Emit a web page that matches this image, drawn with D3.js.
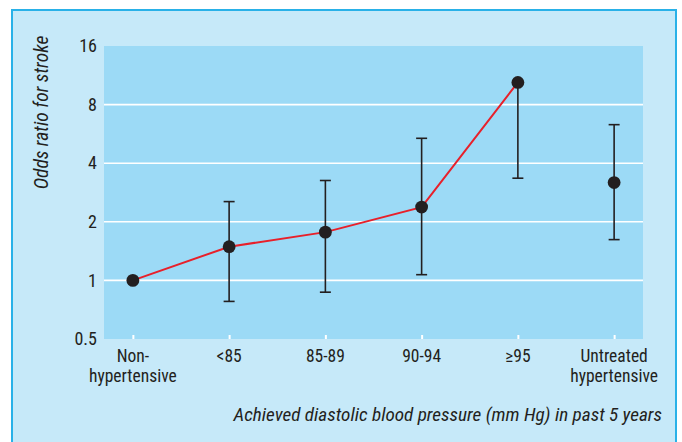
<!DOCTYPE html>
<html>
<head>
<meta charset="utf-8">
<script src="https://cdn.jsdelivr.net/npm/d3@7"></script>
<style>
  html, body { margin: 0; padding: 0; background: #ffffff; }
  svg { display: block; }
  text { font-family: "Liberation Sans Narrow", "Arial Narrow", "Roboto Condensed", sans-serif; fill: #231f20; }
</style>
</head>
<body>
<svg id="chart" width="682" height="442"></svg>
<script>
// ---- data ----
const categories = ["Non-hypertensive", "<85", "85-89", "90-94", "\u226595", "Untreated hypertensive"];
const tickLabelLines = [["Non-", "hypertensive"], ["<85"], ["85-89"], ["90-94"], ["\u226595"], ["Untreated", "hypertensive"]];
const oddsRatio = [1, 1.49, 1.77, 2.38, 10.4, 3.18];
const ciLower = [null, 0.78, 0.87, 1.07, 3.35, 1.62];
const ciUpper = [null, 2.54, 3.26, 5.37, null, 6.31];
const connected = ["Non-hypertensive", "<85", "85-89", "90-94", "\u226595"];
const yTicks = [0.5, 1, 2, 4, 8, 16];
const yGrid = [1, 2, 4, 8];
const yTitle = "Odds ratio for stroke";
const xTitle = "Achieved diastolic blood pressure (mm Hg) in past 5 years";

// ---- layout ----
const svg = d3.select("#chart");
const plot = { left: 104, right: 643, top: 46, bottom: 339 };

svg.append("rect")
  .attr("x", 12).attr("y", 10).attr("width", 664).attr("height", 445)
  .attr("fill", "#c6e9f9").attr("stroke", "#29b1e8").attr("stroke-width", 2);

svg.append("rect")
  .attr("x", plot.left).attr("y", plot.top)
  .attr("width", plot.right - plot.left).attr("height", plot.bottom - plot.top)
  .attr("fill", "#9cdaf6");

const x = d3.scalePoint().domain(categories).range([plot.left, plot.right]).padding(0.3);
const y = d3.scaleLog().base(2).domain([0.5, 16]).range([plot.bottom, plot.top]);

// gridlines
svg.append("g").selectAll("line").data(yGrid).join("line")
  .attr("x1", plot.left).attr("x2", plot.right)
  .attr("y1", d => y(d)).attr("y2", d => y(d))
  .attr("stroke", "#ffffff").attr("stroke-width", 1.6);

// y axis
const yAxis = svg.append("g")
  .attr("transform", `translate(${plot.left},0)`)
  .call(d3.axisLeft(y).tickValues(yTicks).tickFormat(d3.format("")).tickSize(0).tickPadding(7));
yAxis.select(".domain").remove();
yAxis.selectAll("text").style("font-size", "18px").attr("fill", "#231f20");

// x axis (white ticks inside plot)
const xAxis = svg.append("g")
  .attr("transform", `translate(0,${plot.bottom})`)
  .call(d3.axisBottom(x).tickSize(-4).tickFormat(""));
xAxis.select(".domain").remove();
xAxis.selectAll("line").attr("stroke", "#ffffff").attr("stroke-width", 2);

const xLabels = svg.append("g").selectAll("text").data(categories).join("text")
  .attr("x", d => x(d)).attr("y", 362)
  .attr("text-anchor", "middle")
  .style("font-size", "17.5px");
xLabels.each(function(d, i) {
  const t = d3.select(this);
  tickLabelLines[i].forEach((line, j) => {
    t.append("tspan").attr("x", x(d)).attr("dy", j === 0 ? 0 : 19.6).text(line);
  });
});

// titles
svg.append("text")
  .attr("transform", "translate(48,112.5) rotate(-90)")
  .attr("text-anchor", "middle")
  .style("font-size", "19.5px").style("font-style", "italic")
  .text(yTitle);

svg.append("text")
  .attr("x", 662).attr("y", 420.5)
  .attr("text-anchor", "end")
  .style("font-size", "19.2px").style("font-style", "italic")
  .text(xTitle);

// error bars
const rows = categories.map((c, i) => ({ c, v: oddsRatio[i], lo: ciLower[i], hi: ciUpper[i] }));
const eb = svg.append("g").attr("stroke", "#231f20").attr("stroke-width", 1.6).attr("fill", "none");
rows.filter(r => r.lo != null).forEach(r => {
  const top = r.hi != null ? r.hi : r.v;
  eb.append("line").attr("x1", x(r.c)).attr("x2", x(r.c)).attr("y1", y(top)).attr("y2", y(r.lo));
  eb.append("line").attr("x1", x(r.c) - 5.5).attr("x2", x(r.c) + 5.5).attr("y1", y(r.lo)).attr("y2", y(r.lo));
  if (r.hi != null) {
    eb.append("line").attr("x1", x(r.c) - 5.5).attr("x2", x(r.c) + 5.5).attr("y1", y(r.hi)).attr("y2", y(r.hi));
  }
});

// red line
const lineRows = rows.filter(r => connected.includes(r.c));
svg.append("path").datum(lineRows)
  .attr("d", d3.line().x(r => x(r.c)).y(r => y(r.v)))
  .attr("fill", "none").attr("stroke", "#e8202a").attr("stroke-width", 2);

// dots
svg.append("g").selectAll("circle").data(rows).join("circle")
  .attr("cx", r => x(r.c)).attr("cy", r => y(r.v)).attr("r", 6.4)
  .attr("fill", "#231f20");
</script>
</body>
</html>
